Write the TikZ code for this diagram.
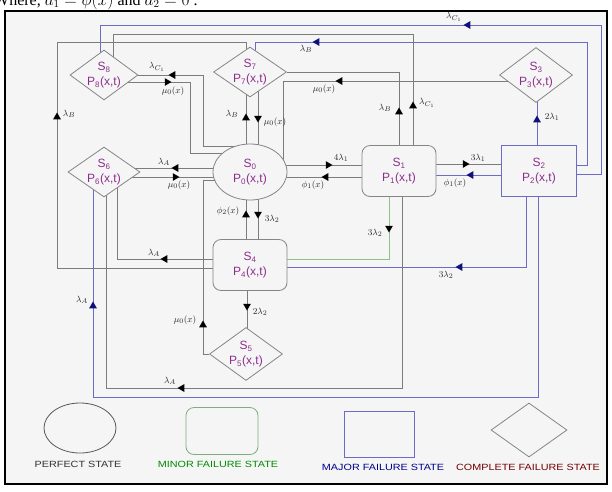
\documentclass[tikz,border=0pt]{standalone}
\usepackage{fontspec}
\setmainfont{Liberation Sans}
\newfontfamily\headfont{Liberation Serif}
\usetikzlibrary{shapes.geometric}

\definecolor{paper}{HTML}{F5F5F5}
\definecolor{edge}{HTML}{858585}
\definecolor{gline}{HTML}{7C7C7C}
\definecolor{bline}{HTML}{6C6CC4}
\definecolor{gnline}{HTML}{8CC08C}
\definecolor{lbl}{HTML}{8C2E8C}
\definecolor{navy}{HTML}{10107A}

\pgfdeclarelayer{back}
\pgfdeclarelayer{wires}
\pgfsetlayers{back,wires,main}

\begin{document}
\begin{tikzpicture}[x=1pt,y=-1pt,
  st/.style={draw=edge,fill=paper,text=lbl,font=\fontsize{12}{15}\selectfont,align=center,inner sep=0pt,line width=0.8pt},
  perf/.style={st,ellipse,minimum width=74pt,minimum height=56pt},
  minor/.style={st,rounded corners=8pt,minimum width=74pt,minimum height=51pt},
  major/.style={st,draw=bline,minimum width=75pt,minimum height=51pt},
  compl/.style={st,diamond,inner sep=-10pt,minimum width=73pt,minimum height=53pt},
  w/.style={draw=gline,line width=0.9pt},
  wb/.style={w,draw=bline},
  wg/.style={w,draw=gnline},
  tip/.style={regular polygon,regular polygon sides=3,fill=black,inner sep=0pt,minimum size=9pt},
  tipu/.style={tip},
  tipd/.style={tip,rotate=180},
  tipl/.style={tip,rotate=90},
  tipr/.style={tip,rotate=-90},
  lab/.style={font=\fontsize{9.5}{9.5}\selectfont,inner sep=0pt,text=black!85},
  key/.style={font=\fontsize{9}{9}\selectfont,inner sep=0pt}]

\clip (0,0) rectangle (612,491);

% page line above the figure
\node[anchor=base west,font=\headfont\fontsize{16}{16}\selectfont,inner sep=0pt] (head) at (-6,5) {Where, $a_1 = \phi(x)$ and $a_2 = 0$ .};

\begin{pgfonlayer}{back}
\fill[paper] (5,11) rectangle (607,484);
\end{pgfonlayer}
\draw[line width=2pt] (5,11) rectangle (607,484);

% states
\node[perf] (S0) at (250,172) {S\textsubscript{0}\\P\textsubscript{0}(x,t)};
\node[minor] (S1) at (399,171) {S\textsubscript{1}\\P\textsubscript{1}(x,t)};
\node[major] (S2) at (539,171) {S\textsubscript{2}\\P\textsubscript{2}(x,t)};
\node[compl,minimum height=55pt] (S3) at (536,75) {S\textsubscript{3}\\P\textsubscript{3}(x,t)};
\node[minor] (S4) at (250,265) {S\textsubscript{4}\\P\textsubscript{4}(x,t)};
\node[compl] (S5) at (246,354) {S\textsubscript{5}\\P\textsubscript{5}(x,t)};
\node[compl,minimum width=72pt,minimum height=50pt] (S6) at (104,172) {S\textsubscript{6}\\P\textsubscript{6}(x,t)};
\node[compl,minimum height=50pt] (S7) at (250,72) {S\textsubscript{7}\\P\textsubscript{7}(x,t)};
\node[compl,minimum width=68pt,minimum height=50pt] (S8) at (104,75) {S\textsubscript{8}\\P\textsubscript{8}(x,t)};

% transitions
\begin{pgfonlayer}{wires}
\draw[w] (S0 |- 0,165) -- (S1 |- 0,165);
\draw[w] (S1 |- 0,177) -- (S0 |- 0,177);
\draw[w] (S1 |- 0,164) -- (S2 |- 0,164);
\draw[wb] (S2 |- 0,175) -- (S1 |- 0,175);
\draw[wb] (S2 -| 537,0) -- (S3 -| 537,0);
\draw[wb] (S2 |- 0,174) -| (601,25) -| (S8 -| 100,0);
\draw[wb] (S2 |- 0,165) -| (587,42) -| (S7 -| 255,0);
\draw[w] (S4 |- 0,268) -| (57,42) -| (S7 -| 246,0);
\draw[w] (S4 |- 0,259) -| (S6 -| 117,0);
\draw[w] (S0 |- 0,168) -- (S6 |- 0,168);
\draw[w] (S6 |- 0,177) -- (S0 |- 0,177);
\draw[w] (S4 -| 246,0) -- (S0 -| 246,0);
\draw[w] (S0 -| 258,0) -- (S4 -| 258,0);
\draw[w] (S4 -| 247,0) -- (S5 -| 247,0);
\draw[w] (S5) -| (203,180) -- (S0 |- 0,180);
\draw[wg] (S1 -| 389,0) |- (S4 |- 0,259);
\draw[wb] (S2 -| 526,0) |- (S4 |- 0,267);
\draw[w] (S1 -| 402,0) |- (106,388) -- (S6 -| 106,0);
\draw[wb] (S2 -| 538,0) |- (93,397) -- (S6 -| 93,0);
\draw[w] (S0 -| 246,0) -- (S7 -| 246,0);
\draw[w] (S7 -| 258,0) -- (S0 -| 258,0);
\draw[w] (S1 -| 399,0) |- (S7);
\draw[w] (S1 -| 413,0) |- (113,34) -- (S8 -| 113,0);
\draw[w] (S3 |- 0,81) -| (S0 -| 283,0);
\draw[w] (S0 |- 0,146) -| (203,75) -- (S8);
\draw[w] (S8 |- 0,82) -| (190,153) -- (S0 |- 0,153);
\end{pgfonlayer}

% arrow heads and rates
\node[tipr] (a1) at (328,165) {};
\node[lab] (l1) at (341,158) {$4\lambda_1$};
\node[tipl] (a2) at (326,177) {};
\node[lab] (l2) at (313,185) {$\phi_1(x)$};
\node[tipr] (a3) at (465,164) {};
\node[lab] (l3) at (478,158) {$3\lambda_1$};
\node[tipl,fill=navy] (a4) at (471,175) {};
\node[lab] (l4) at (455,183) {$\phi_1(x)$};
\node[tipu,fill=navy] (a5) at (537,120) {};
\node[lab] (l5) at (552,117) {$2\lambda_1$};
\node[tipl,fill=navy] (a6) at (468,25) {};
\node[lab] (l6) at (454,17) {$\lambda_{C_1}$};
\node[tipl,fill=navy] (a7) at (317,42) {};
\node[lab] (l7) at (306,49) {$\lambda_B$};
\node[tipu] (a8) at (399,112) {};
\node[lab] (l8) at (385,108) {$\lambda_B$};
\node[tipu] (a9) at (413,106) {};
\node[lab] (l9) at (427,103) {$\lambda_{C_1}$};
\node[tipl] (a10) at (340,81) {};
\node[lab] (l10) at (324,89) {$\mu_0(x)$};
\node[tipl] (a11) at (173,75) {};
\node[lab] (l11) at (157,67) {$\lambda_{C_1}$};
\node[tipr] (a12) at (167,82) {};
\node[lab] (l12) at (173,91) {$\mu_0(x)$};
\node[tipu] (a13) at (57,117) {};
\node[lab] (l13) at (69,114) {$\lambda_B$};
\node[tipu] (a14) at (246,118) {};
\node[lab] (l14) at (232,114) {$\lambda_B$};
\node[tipd] (a15) at (258,118) {};
\node[lab] (l15) at (275,122) {$\mu_0(x)$};
\node[tipl] (a16) at (176,168) {};
\node[lab] (l16) at (164,162) {$\lambda_A$};
\node[tipr] (a17) at (175,177) {};
\node[lab] (l17) at (179,185) {$\mu_0(x)$};
\node[tipu] (a18) at (246,215) {};
\node[lab] (l18) at (228,211) {$\phi_2(x)$};
\node[tipd] (a19) at (258,214) {};
\node[lab] (l19) at (272,219) {$3\lambda_2$};
\node[tipl] (a20) at (165,259) {};
\node[lab] (l20) at (154,253) {$\lambda_A$};
\node[tipd] (a21) at (389,228) {};
\node[lab] (l21) at (375,233) {$3\lambda_2$};
\node[tipl,fill=navy] (a22) at (460,267) {};
\node[lab] (l22) at (446,275) {$3\lambda_2$};
\node[tipd] (a23) at (247,306) {};
\node[lab] (l23) at (260,312) {$2\lambda_2$};
\node[tipu] (a24) at (203,325) {};
\node[lab] (l24) at (185,320) {$\mu_0(x)$};
\node[tipl] (a25) at (182,388) {};
\node[lab] (l25) at (170,381) {$\lambda_A$};
\node[tipu,fill=navy] (a26) at (93,306) {};
\node[lab] (l26) at (82,300) {$\lambda_A$};

% key
\node[st,ellipse,draw=black!65,minimum width=72pt,minimum height=50pt] (kperf) at (80,428) {};
\node[st,rounded corners=8pt,draw=gnline!90!black,minimum width=72pt,minimum height=47pt] (kminor) at (222,431) {};
\node[st,draw=bline,minimum width=70pt,minimum height=46pt] (kmajor) at (379,434) {};
\node[st,diamond,draw=edge,minimum width=76pt,minimum height=54pt] (kcompl) at (529,430) {};
\node[key,text=black!80] (tperf) at (78,464) {\scalebox{1.2}[1]{PERFECT STATE}};
\node[key,text=green!55!black] (tminor) at (218,464) {\scalebox{1.2}[1]{MINOR FAILURE STATE}};
\node[key,text=blue!55!black] (tmajor) at (383,467) {\scalebox{1.2}[1]{MAJOR FAILURE STATE}};
\node[key,text=red!45!black] (tcompl) at (528,467) {\scalebox{1.2}[1]{COMPLETE FAILURE STATE}};
\end{tikzpicture}
\end{document}
